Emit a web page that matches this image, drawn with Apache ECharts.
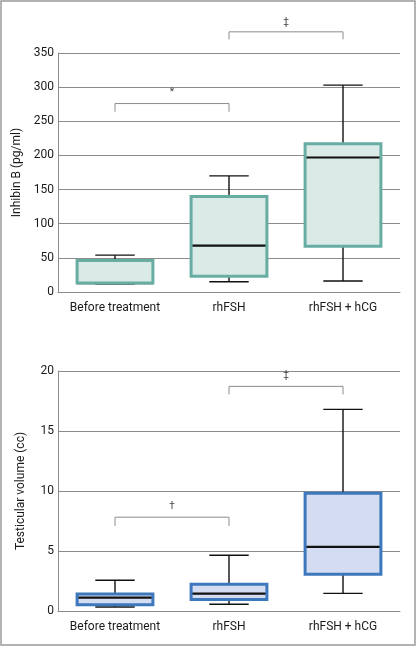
<!DOCTYPE html>
<html><head><meta charset="utf-8">
<script src="https://cdn.jsdelivr.net/npm/echarts@6/dist/echarts.min.js"></script>
<style>html,body{margin:0;padding:0;background:#fff}#c{width:417px;height:647px}</style>
</head><body><div id="c"></div>
<script>
var categories = ['Before treatment', 'rhFSH', 'rhFSH + hCG'];
// [min, Q1, median, Q3, max]
var inhibinB = [[12, 13, 13, 46, 54], [15, 23, 68, 140, 170], [16, 67, 197, 217, 303]];
var testicularVolume = [[0.33, 0.53, 1.11, 1.42, 2.56], [0.56, 0.95, 1.45, 2.23, 4.65], [1.47, 3.06, 5.34, 9.82, 16.8]];
var inhibinTicks = [0, 350, 50];
var volumeTicks = [0, 20, 5];
// significance brackets: [fromCat, toCat, topValue, legValue, labelValue, label]
var inhibinBrackets = [[0, 1, 276, 264, 292, '*'], [1, 2, 381, 370, 395, '\u2021']];
var volumeBrackets = [[0, 1, 7.82, 7.09, 8.73, '\u2020'], [1, 2, 18.72, 18.05, 19.6, '\u2021']];

var FONT = 'Roboto, "Noto Sans", sans-serif';
var chart = echarts.init(document.getElementById('c'), null, {renderer: 'canvas'});

function boxData(arr) { return arr.map(function (d, i) { return [i].concat(d); }); }
function boxRender(stroke, fill) {
  return function (params, api) {
    var c = api.value(0);
    var bw = api.size([1, 0])[0] * 0.665;
    var pMin = api.coord([c, api.value(1)]);
    var pQ1 = api.coord([c, api.value(2)]);
    var pMed = api.coord([c, api.value(3)]);
    var pQ3 = api.coord([c, api.value(4)]);
    var pMax = api.coord([c, api.value(5)]);
    var x = pMin[0];
    var cap = bw * 0.52;
    var ws = {stroke: '#111', lineWidth: 1.4};
    return {
      type: 'group',
      children: [
        {type: 'line', shape: {x1: x, y1: pMax[1], x2: x, y2: pMin[1]}, style: ws},
        {type: 'line', shape: {x1: x - cap / 2, y1: pMax[1], x2: x + cap / 2, y2: pMax[1]}, style: ws},
        {type: 'line', shape: {x1: x - cap / 2, y1: pMin[1], x2: x + cap / 2, y2: pMin[1]}, style: ws},
        {type: 'rect', shape: {x: x - bw / 2, y: pQ3[1], width: bw, height: pQ1[1] - pQ3[1]}, style: {fill: fill, stroke: null}},
        {type: 'line', shape: {x1: x - bw / 2, y1: pMed[1], x2: x + bw / 2, y2: pMed[1]}, style: {stroke: '#111', lineWidth: 2.2}},
        {type: 'rect', shape: {x: x - bw / 2, y: pQ3[1], width: bw, height: pQ1[1] - pQ3[1]}, style: {fill: null, stroke: stroke, lineWidth: 3}}
      ]
    };
  };
}
function bracketRender(params, api, labels) {
  var a = api.value(0), b = api.value(1);
  var pA = api.coord([a, api.value(2)]);
  var pB = api.coord([b, api.value(2)]);
  var legA = api.coord([a, api.value(3)]);
  var lab = api.coord([a, api.value(4)]);
  var txt = labels[params.dataIndex];
  return {
    type: 'group',
    children: [
      {type: 'polyline', shape: {points: [[pA[0], legA[1]], [pA[0], pA[1]], [pB[0], pB[1]], [pB[0], legA[1]]]}, style: {stroke: '#8c8c8c', lineWidth: 1, fill: null}},
      {type: 'text', style: {x: (pA[0] + pB[0]) / 2, y: lab[1], text: txt, fill: '#444', font: '10px ' + FONT, align: 'center', verticalAlign: 'middle'}}
    ]
  };
}
function makeBracketSeries(br, idx) {
  var labels = br.map(function (d) { return d[5]; });
  return {
    type: 'custom', xAxisIndex: idx, yAxisIndex: idx, clip: false, silent: true,
    data: br.map(function (d) { return d.slice(0, 5); }),
    renderItem: function (params, api) { return bracketRender(params, api, labels); },
    z: 1
  };
}

function xAxis(idx) {
  return {
    type: 'category', gridIndex: idx, data: categories,
    axisLine: {lineStyle: {color: '#8c8c8c', width: 1}},
    axisTick: {show: false},
    axisLabel: {interval: 0, color: '#1a1a1a', fontSize: 12, fontFamily: FONT, margin: 10},
    splitLine: {show: false}
  };
}
function yAxis(idx, ticks, name) {
  return {
    type: 'value', gridIndex: idx, min: ticks[0], max: ticks[1], interval: ticks[2],
    name: name, nameLocation: 'middle', nameGap: 31,
    nameTextStyle: {color: '#1a1a1a', fontSize: 12, fontFamily: FONT},
    axisLine: {show: true, lineStyle: {color: '#8c8c8c', width: 1}},
    axisTick: {show: false},
    axisLabel: {color: '#1a1a1a', fontSize: 12, fontFamily: FONT, margin: 4},
    splitLine: {lineStyle: {color: '#8c8c8c', width: 1}}
  };
}

chart.setOption({
  animation: false,
  backgroundColor: '#fff',
  graphic: [{type: 'rect', shape: {x: 1, y: 1, width: 414, height: 644}, style: {fill: null, stroke: '#9a9a9a', lineWidth: 1.5}, z: 100}],
  grid: [
    {left: 58, right: 17, top: 53, height: 239},
    {left: 58, right: 17, top: 371, height: 240}
  ],
  xAxis: [xAxis(0), xAxis(1)],
  yAxis: [yAxis(0, inhibinTicks, 'Inhibin B (pg/ml)'), yAxis(1, volumeTicks, 'Testicular volume (cc)')],
  series: [
    {type: 'custom', xAxisIndex: 0, yAxisIndex: 0, data: boxData(inhibinB), renderItem: boxRender('#68ada4', '#d9eae7'), z: 3},
    {type: 'custom', xAxisIndex: 1, yAxisIndex: 1, data: boxData(testicularVolume), renderItem: boxRender('#3e78bc', '#d3dcf1'), z: 3},
    makeBracketSeries(inhibinBrackets, 0),
    makeBracketSeries(volumeBrackets, 1)
  ]
});
</script></body></html>
